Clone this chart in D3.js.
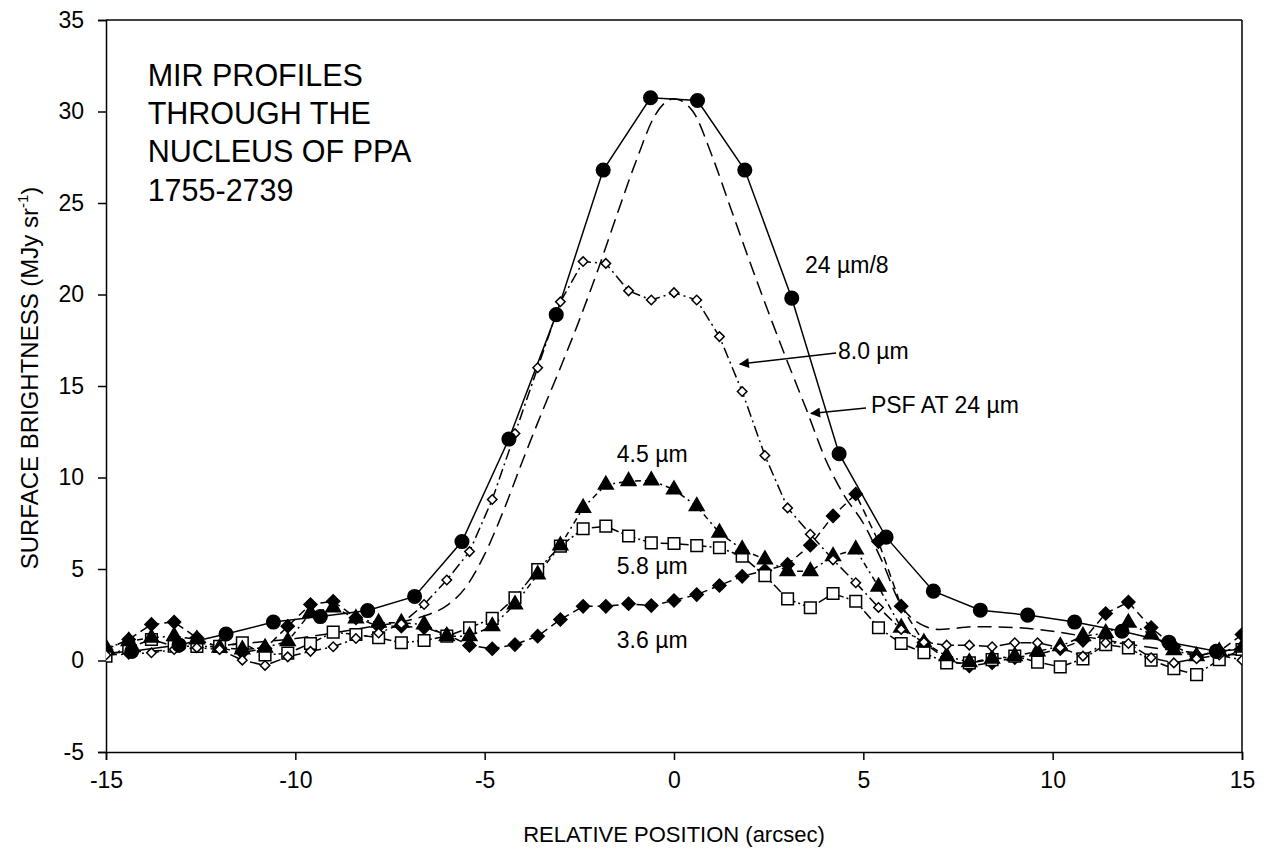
<!DOCTYPE html>
<html>
<head>
<meta charset="utf-8">
<script src="https://cdn.jsdelivr.net/npm/d3@7"></script>
<style>
  body { margin: 0; background: #fff; }
  #chart { width: 1268px; height: 854px; }
  text { font-family: "Liberation Sans", Arial, sans-serif; fill: #000; }
</style>
</head>
<body>
<div id="chart"></div>
<script>
// positions (arcsec) of the MIPS 24 um samples
const mipsX = [-15.56, -14.32, -13.07, -11.83, -10.58, -9.34, -8.09, -6.85, -5.6, -4.36, -3.11, -1.87, -0.62,
               0.62, 1.87, 3.11, 4.36, 5.6, 6.85, 8.09, 9.34, 10.58, 11.83, 13.07, 14.32, 15.56];
const mips24 = [0.3, 0.5, 0.85, 1.45, 2.1, 2.4, 2.73, 3.5, 6.5, 12.1, 18.9, 26.8, 30.75,
                30.6, 26.8, 19.8, 11.3, 6.74, 3.79, 2.75, 2.48, 2.1, 1.6, 1.0, 0.5, 0.7];

// PSF at 24 um
const psfX = [-15, -14, -13, -12, -11, -10, -9, -8, -7, -6.5, -6, -5.5, -5, -4.5, -4, -3.5, -3, -2.5, -2, -1.5, -1, -0.5, 0,
              0.5, 1, 1.5, 2, 2.5, 3, 3.5, 4, 4.5, 5, 5.5, 6, 6.5, 7, 8, 9, 10, 11, 12, 13, 14, 15];
const psf = [0.4, 0.5, 0.6, 0.8, 1.0, 1.2, 1.5, 1.85, 2.2, 2.5, 3.0, 4.0, 5.8, 8.2, 10.9, 13.5, 16.0, 18.6, 21.4, 24.4, 27.3, 29.8, 30.7,
             30.0, 27.6, 24.7, 21.8, 19.0, 16.3, 13.7, 11.0, 9.0, 7.5, 5.4, 3.0, 2.0, 1.7, 1.85, 1.8, 1.6, 1.25, 0.9, 0.6, 0.4, 0.3];

// positions (arcsec) of the IRAC samples
const iracX = [-15, -14.4, -13.8, -13.2, -12.6, -12, -11.4, -10.8, -10.2, -9.6, -9, -8.4, -7.8, -7.2, -6.6, -6, -5.4, -4.8, -4.2, -3.6,
               -3, -2.4, -1.8, -1.2, -0.6, 0, 0.6, 1.2, 1.8, 2.4, 3, 3.6, 4.2, 4.8, 5.4, 6, 6.6, 7.2, 7.8, 8.4,
               9, 9.6, 10.2, 10.8, 11.4, 12, 12.6, 13.2, 13.8, 14.4, 15];

const irac80 = [0.3, 0.35, 0.42, 0.6, 0.7, 0.6, 0.02, -0.27, 0.2, 0.5, 0.75, 1.2, 1.5, 2.0, 3.06, 4.4, 5.95, 8.8, 12.4, 16.0,
                19.6, 21.8, 21.7, 20.2, 19.7, 20.1, 19.7, 17.7, 14.7, 11.2, 8.34, 6.9, 5.5, 4.25, 2.9, 1.7, 1.0, 0.84, 0.84, 0.75,
                0.97, 0.97, 0.7, 0.24, 0.97, 0.93, 0.15, -0.13, 0.1, 0.3, 0.02];

const irac45 = [0.7, 1.05, 1.24, 1.33, 1.15, 0.7, 0.6, 0.7, 1.05, 2.6, 2.9, 2.3, 2.06, 2.06, 1.97, 1.33, 1.33, 1.87, 3.06, 4.7,
                6.28, 8.34, 9.6, 9.8, 9.84, 9.34, 8.43, 6.98, 6.07, 5.52, 4.88, 4.88, 5.7, 6.07, 4.03, 1.79, 0.98, 0.24, -0.1, 0.1,
                0.24, 0.5, 0.78, 1.33, 1.5, 2.06, 1.42, 0.56, 0.24, 0.5, 0.7];

const irac58 = [0.24, 0.7, 1.15, 0.78, 0.77, 0.77, 0.97, 0.3, 0.4, 0.93, 1.55, 1.42, 1.24, 0.97, 1.09, 1.33, 1.79, 2.3, 3.43, 4.97,
                6.25, 7.2, 7.34, 6.8, 6.43, 6.39, 6.28, 6.16, 5.7, 4.64, 3.37, 2.88, 3.66, 3.24, 1.79, 0.93, 0.42, -0.13, -0.13, 0.05,
                0.24, -0.09, -0.35, 0.09, 0.87, 0.69, 0.02, -0.45, -0.77, 0.05, 0.6];

const irac36 = [0.6, 1.15, 1.97, 2.1, 1.24, 0.7, 0.44, 0.65, 1.87, 3.06, 3.24, 2.33, 1.87, 1.87, 1.8, 1.42, 0.82, 0.64, 0.87, 1.33,
                2.24, 2.96, 2.96, 3.1, 3.0, 3.28, 3.6, 4.1, 4.6, 4.92, 5.25, 6.3, 7.9, 9.1, 6.5, 2.97, 0.98, 0.05, -0.3, -0.12,
                0.16, 0.33, 0.65, 1.1, 2.57, 3.19, 1.8, 0.77, 0.24, 0.5, 1.42];

const xTicks = [-15, -10, -5, 0, 5, 10, 15];
const yTicks = [-5, 0, 5, 10, 15, 20, 25, 30, 35];
const titleLines = ["MIR PROFILES", "THROUGH THE", "NUCLEUS OF PPA", "1755-2739"];

const W = 1268, H = 854;
const margin = {top: 20, right: 26, bottom: 102, left: 106};
const width = W - margin.left - margin.right;
const height = H - margin.top - margin.bottom;

const svg = d3.select("#chart").append("svg")
    .attr("width", W)
    .attr("height", H);

const g = svg.append("g")
    .attr("transform", `translate(${margin.left},${margin.top})`);

const x = d3.scaleLinear().domain([-15, 15]).range([0, width]);
const y = d3.scaleLinear().domain([-5, 35]).range([height, 0]);

svg.append("defs").append("clipPath").attr("id", "plotclip")
  .append("rect").attr("x", 0).attr("y", 0).attr("width", width).attr("height", height);

svg.select("defs").append("marker")
    .attr("id", "arrow")
    .attr("viewBox", "0 0 10 10")
    .attr("refX", 9).attr("refY", 5)
    .attr("markerWidth", 14).attr("markerHeight", 10)
    .attr("markerUnits", "userSpaceOnUse")
    .attr("orient", "auto")
  .append("path").attr("d", "M0,0 L10,5 L0,10 Z").attr("fill", "#000");

// axes (plain hyphen for negatives)
const fmt = d => String(d);
const xAxis = g.append("g")
    .attr("transform", `translate(0,${height})`)
    .call(d3.axisBottom(x).tickValues(xTicks).tickFormat(fmt).tickSize(8).tickPadding(12));
const yAxis = g.append("g")
    .call(d3.axisLeft(y).tickValues(yTicks).tickFormat(fmt).tickSize(8).tickPadding(14));
[xAxis, yAxis].forEach(a => {
  a.selectAll("text").style("font-size", "23px").style("font-family", "Liberation Sans, Arial, sans-serif");
  a.selectAll("line, path").attr("stroke", "#000").attr("stroke-width", 1.5);
});
// top & right frame
g.append("line").attr("x1", 0).attr("x2", width).attr("y1", 0).attr("y2", 0)
  .attr("stroke", "#000").attr("stroke-width", 1.5);
g.append("line").attr("x1", width).attr("x2", width).attr("y1", 0).attr("y2", height)
  .attr("stroke", "#000").attr("stroke-width", 1.5);

g.append("text")
    .attr("x", width / 2).attr("y", height + 90)
    .attr("text-anchor", "middle")
    .style("font-size", "22px")
    .text("RELATIVE POSITION (arcsec)");

const ylab = g.append("text")
    .attr("transform", `translate(${-68},${height / 2 - 8}) rotate(-90)`)
    .attr("text-anchor", "middle")
    .style("font-size", "24px");
ylab.append("tspan").text("SURFACE BRIGHTNESS (MJy sr");
ylab.append("tspan").attr("dy", -10).style("font-size", "15px").text("-1");
ylab.append("tspan").attr("dy", 10).text(")");

const plot = g.append("g").attr("clip-path", "url(#plotclip)");

function series(xs, ys) { return xs.map((d, i) => [d, ys[i]]); }

const line = d3.line().x(d => x(d[0])).y(d => y(d[1]));
const smooth = d3.line().x(d => x(d[0])).y(d => y(d[1])).curve(d3.curveMonotoneX);

function drawLine(data, dash, gen) {
  plot.append("path")
      .datum(data)
      .attr("fill", "none")
      .attr("stroke", "#000")
      .attr("stroke-width", 1.5)
      .attr("stroke-dasharray", dash)
      .attr("d", gen || line);
}

const d24 = series(mipsX, mips24);
const dPsf = series(psfX, psf);
const d80 = series(iracX, irac80);
const d45 = series(iracX, irac45);
const d58 = series(iracX, irac58);
const d36 = series(iracX, irac36);

drawLine(dPsf, "14,7", smooth);
drawLine(d36, "8,5");
drawLine(d58, "10,3,2,3");
drawLine(d45, "6,4,2,4");
drawLine(d80, "11,4,2,4");
drawLine(d24, null);

function drawMarkers(data, type, size, filled) {
  plot.selectAll(null)
      .data(data)
      .enter()
      .append("path")
      .attr("transform", d => `translate(${x(d[0])},${y(d[1])})` + (type === "diamond" ? " rotate(45)" : ""))
      .attr("d", d3.symbol().type(type === "diamond" ? d3.symbolSquare : type).size(size))
      .attr("fill", filled ? "#000" : "#fff")
      .attr("stroke", "#000")
      .attr("stroke-width", 1.5);
}

drawMarkers(d36, "diamond", 85, true);
drawMarkers(d58, d3.symbolSquare, 135, false);
drawMarkers(d45, d3.symbolTriangle, 95, true);
drawMarkers(d80, "diamond", 45, false);
drawMarkers(d24, d3.symbolCircle, 145, true);

// annotations
const ann = g.append("g").style("font-size", "23px");
titleLines.forEach((t, i) => {
  ann.append("text")
      .attr("x", x(-13.9))
      .attr("y", y(31.4) + i * 38.3)
      .style("font-size", "30.5px")
      .text(t);
});

function label(px, py, txt) {
  ann.append("text").attr("x", x(px)).attr("y", y(py)).text(txt);
}
label(3.46, 21.2, "24 \u00b5m/8");
label(4.33, 16.45, "8.0 \u00b5m");
label(5.2, 13.55, "PSF AT 24 \u00b5m");
label(-1.51, 10.87, "4.5 \u00b5m");
label(-1.51, 4.7, "5.8 \u00b5m");
label(-1.51, 0.71, "3.6 \u00b5m");

function arrow(x1, y1, x2, y2) {
  ann.append("line")
      .attr("x1", x(x1)).attr("y1", y(y1))
      .attr("x2", x(x2)).attr("y2", y(y2))
      .attr("stroke", "#000").attr("stroke-width", 1.5)
      .attr("marker-end", "url(#arrow)");
}
arrow(4.28, 16.8, 1.74, 16.2);
arrow(5.07, 13.8, 3.62, 13.5);
</script>
</body>
</html>
